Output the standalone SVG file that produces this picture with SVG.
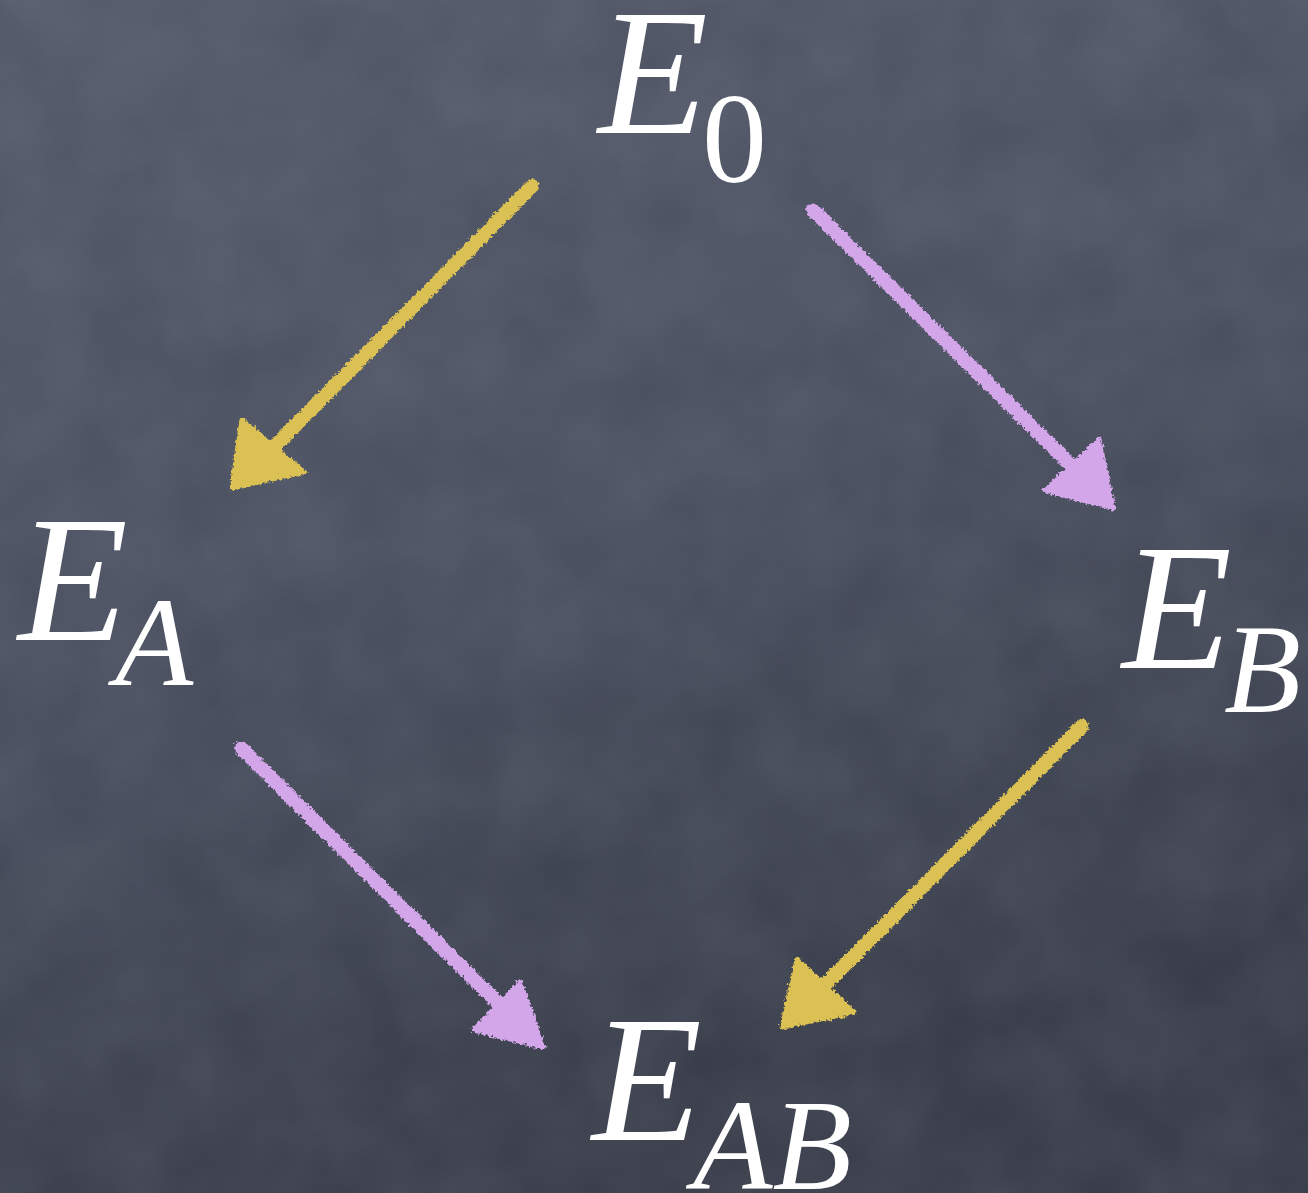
<svg xmlns="http://www.w3.org/2000/svg" width="1308" height="1193" viewBox="0 0 1308 1193">
<defs>
<linearGradient id="bg" x1="0" y1="0" x2="0.3" y2="1">
<stop offset="0" stop-color="#535969"/>
<stop offset="0.5" stop-color="#4a5060"/>
<stop offset="1" stop-color="#393d4a"/>
</linearGradient>
<filter id="chalk" x="-10%" y="-10%" width="120%" height="120%">
<feTurbulence type="fractalNoise" baseFrequency="0.35" numOctaves="2" seed="3" result="n"/>
<feDisplacementMap in="SourceGraphic" in2="n" scale="6" xChannelSelector="R" yChannelSelector="G"/>
</filter>
<filter id="mottle" x="0" y="0" width="100%" height="100%">
<feTurbulence type="fractalNoise" baseFrequency="0.012" numOctaves="3" seed="7"/>
<feColorMatrix type="matrix" values="0 0 0 0 0.6  0 0 0 0 0.64  0 0 0 0 0.72  0 0 0 0.35 -0.05"/>
</filter>
</defs>
<style>
text{font-family:"Liberation Serif","Times New Roman",serif;fill:#ffffff}
.it{font-style:italic}
.yel{stroke:#dbc152;fill:#dbc152}
.pur{stroke:#d3a6ea;fill:#d3a6ea}
.ln{stroke-width:14;stroke-linecap:round;fill:none}
.hd{stroke-width:5;stroke-linejoin:round}
</style>
<rect width="1308" height="1193" fill="url(#bg)"/>
<rect width="1308" height="1193" filter="url(#mottle)" opacity="0.35"/>
<g id="connectors" filter="url(#chalk)">
<g id="e0-ea">
<line class="ln yel" x1="532" y1="186" x2="275" y2="446"/>
<polygon class="hd yel" points="242,420 304,472 232,488"/>
</g>
<g id="e0-eb">
<line class="ln pur" x1="813" y1="210" x2="1072" y2="466"/>
<polygon class="hd pur" points="1099,440 1113,508 1045,490"/>
</g>
<g id="ea-eab">
<line class="ln pur" x1="241" y1="748" x2="500" y2="1005"/>
<polygon class="hd pur" points="520,982 543,1047 474,1030"/>
</g>
<g id="eb-eab">
<line class="ln yel" x1="1082" y1="726" x2="826" y2="984"/>
<polygon class="hd yel" points="797,960 854,1012 782,1027"/>
</g>
</g>
<g id="node-e0">
<text class="it" x="598" y="133" font-size="180">E</text>
<text x="702" y="182" font-size="130">0</text>
</g>
<g id="node-ea">
<text class="it" x="18" y="640" font-size="180">E</text>
<text class="it" x="115" y="685" font-size="128">A</text>
</g>
<g id="node-eb">
<text class="it" x="1122" y="668" font-size="180">E</text>
<text class="it" x="1224" y="712" font-size="126">B</text>
</g>
<g id="node-eab">
<text class="it" x="592" y="1140" font-size="180">E</text>
<text class="it" x="693" y="1189" font-size="130">AB</text>
</g>
</svg>
